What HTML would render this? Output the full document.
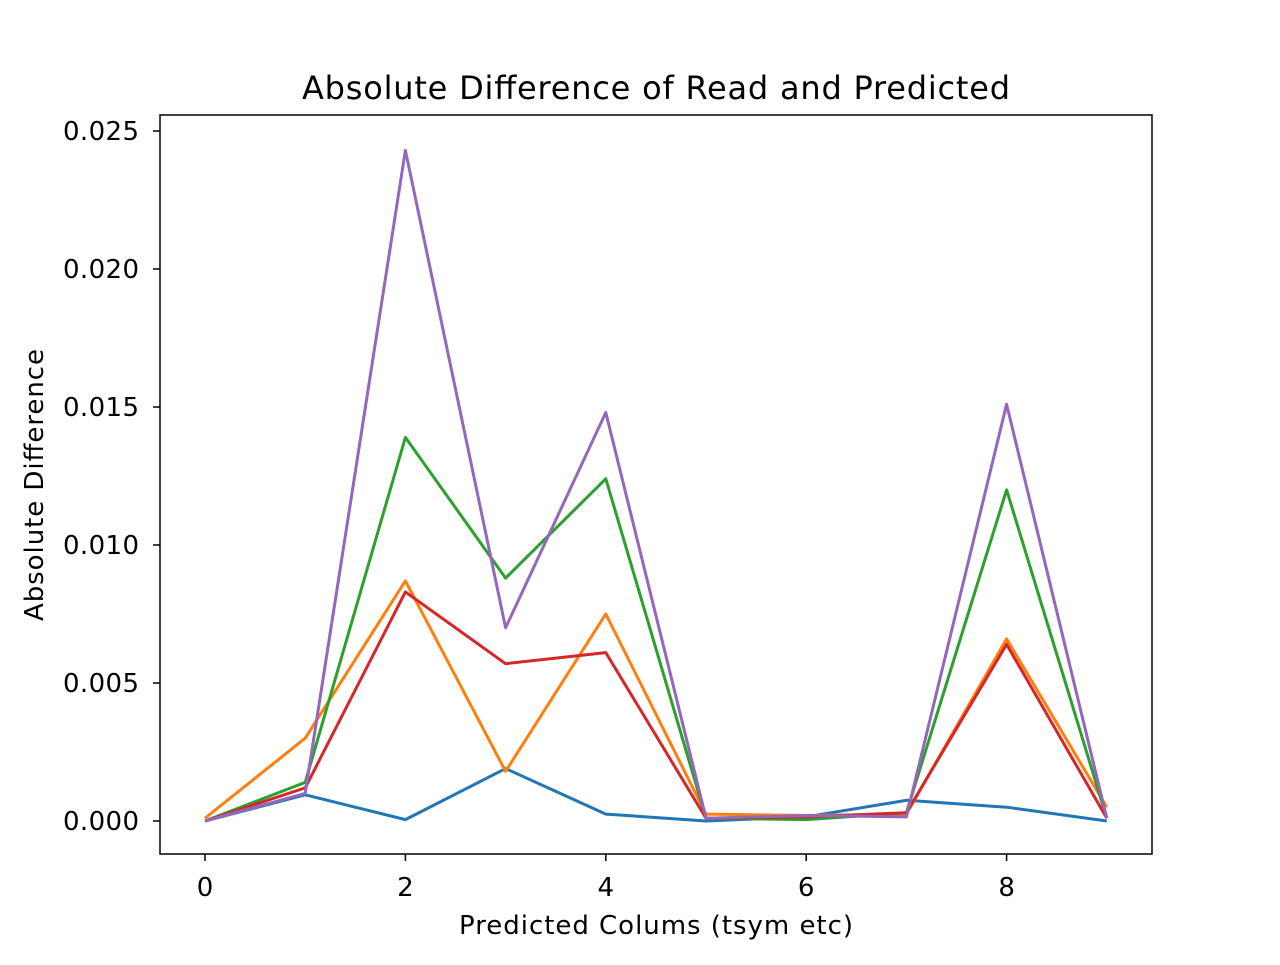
<!DOCTYPE html>
<html><head><meta charset="utf-8"><style>
body{margin:0;background:#fff;}
svg text{font-family:"DejaVu Sans","Liberation Sans",sans-serif;fill:#000;}
</style></head><body>
<svg id="chart" width="1280" height="960" xmlns="http://www.w3.org/2000/svg">
<rect width="1280" height="960" fill="#fff"/>
<text x="656" y="99" style="font-size:32px" text-anchor="middle" textLength="708">Absolute Difference of Read and Predicted</text>
<text x="656" y="934" style="font-size:26px" text-anchor="middle" textLength="394">Predicted Colums (tsym etc)</text>
<text transform="translate(43,485) rotate(-90)" style="font-size:26px" text-anchor="middle" textLength="272">Absolute Difference</text>
<g id="ticks"></g>
<g id="lines"></g>
<rect x="160" y="115" width="992" height="739" fill="none" stroke="#000" stroke-width="1.5"/>
</svg>
<script>
const xCats = [0,1,2,3,4,5,6,7,8,9];
const xTicks = [0,2,4,6,8];
const yTicks = [0,0.005,0.010,0.015,0.020,0.025];
const yTickLabels = ["0.000","0.005","0.010","0.015","0.020","0.025"];
const series0 = [0,0.00095,0.00005,0.0019,0.00025,0,0.00015,0.00075,0.0005,0];
const series1 = [0.0001,0.003,0.0087,0.0018,0.0075,0.00025,0.0002,0.00025,0.0066,0.0005];
const series2 = [0,0.0014,0.0139,0.0088,0.0124,0.0001,0.00005,0.0003,0.012,0.0001];
const series3 = [0,0.0012,0.0083,0.0057,0.0061,0.0001,0.00015,0.0003,0.0064,0.0001];
const series4 = [0,0.001,0.0243,0.007,0.0148,0.0001,0.0002,0.00015,0.0151,0.0001];
const seriesList = [series0,series1,series2,series3,series4];
const colors = ["#1f77b4","#ff7f0e","#2ca02c","#d62728","#9467bd"];
const NS="http://www.w3.org/2000/svg";
function xs(v){return 205+v*100.2;}
function ys(v){return 821-v*27600;}
const tg=document.getElementById('ticks');
xTicks.forEach(t=>{
  const l=document.createElementNS(NS,'line');
  l.setAttribute('x1',xs(t));l.setAttribute('x2',xs(t));l.setAttribute('y1',854);l.setAttribute('y2',861);
  l.setAttribute('stroke','#000');l.setAttribute('stroke-width','1.5');
  
  
  tg.appendChild(l);
  const tx=document.createElementNS(NS,'text');
  tx.setAttribute('x',xs(t));tx.setAttribute('y',896);tx.setAttribute('style','font-size:26px');tx.setAttribute('text-anchor','middle');
  tx.textContent=t;
  
  
  tg.appendChild(tx);
});
yTicks.forEach((t,i)=>{
  const l=document.createElementNS(NS,'line');
  l.setAttribute('x1',153);l.setAttribute('x2',160);l.setAttribute('y1',ys(t));l.setAttribute('y2',ys(t));
  l.setAttribute('stroke','#000');l.setAttribute('stroke-width','1.5');
  
  
  tg.appendChild(l);
  const tx=document.createElementNS(NS,'text');
  tx.setAttribute('x',139);tx.setAttribute('y',ys(t)+9);tx.setAttribute('style','font-size:26px');tx.setAttribute('text-anchor','end');
  tx.setAttribute('textLength','76');
  tx.textContent=yTickLabels[i];
  
  
  tg.appendChild(tx);
});
const lg=document.getElementById('lines');
seriesList.forEach((s,i)=>{
  const p=document.createElementNS(NS,'polyline');
  p.setAttribute('points',s.map((v,j)=>xs(xCats[j])+','+ys(v)).join(' '));
  p.setAttribute('fill','none');p.setAttribute('stroke',colors[i]);p.setAttribute('stroke-width','3');
  p.setAttribute('stroke-linejoin','round');
  
  
  lg.appendChild(p);
});
</script>
</body></html>
